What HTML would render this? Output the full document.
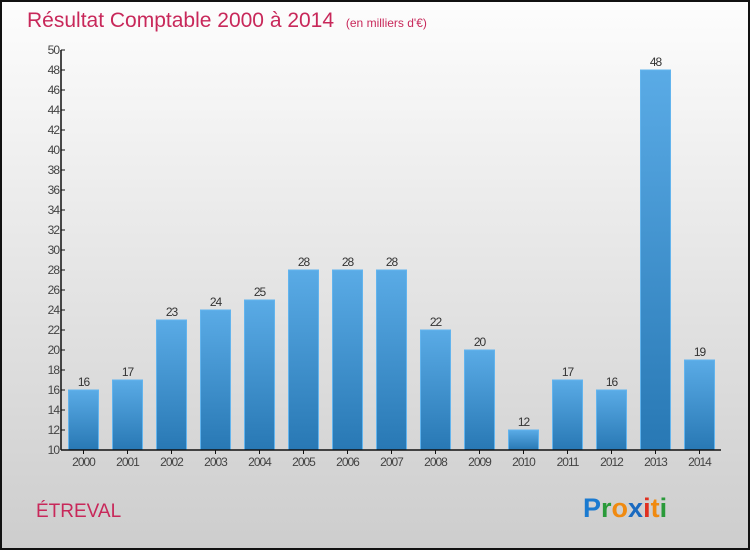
<!DOCTYPE html>
<html><head><meta charset="utf-8"><style>
body{margin:0;width:750px;height:550px;overflow:hidden}
svg{display:block;font-family:"Liberation Sans",sans-serif}
</style></head><body>
<svg width="750" height="550">
<defs>
<linearGradient id="bg" x1="0" y1="0" x2="0" y2="1"><stop offset="0" stop-color="#fdfdfd"/><stop offset="1" stop-color="#cdcdcd"/></linearGradient>
<linearGradient id="bar" x1="0" y1="0" x2="0" y2="1"><stop offset="0" stop-color="#5aabe6"/><stop offset="1" stop-color="#2878b4"/></linearGradient>
</defs>
<rect x="1" y="1" width="748" height="548" fill="url(#bg)" stroke="#111" stroke-width="2"/>
<text x="27" y="27" font-size="21" fill="#c8285a">Résultat Comptable 2000 à 2014 <tspan font-size="12" dx="6">(en milliers d'€)</tspan></text>
<g id="yaxis"></g>
<g id="bars"></g>
<g id="xaxis"></g>
<text x="36" y="517" font-size="19" fill="#c8285a">ÉTREVAL</text>
<text x="583" y="517" font-size="27" font-weight="bold"><tspan fill="#1a7ad0">P</tspan><tspan fill="#2a9a3a">r</tspan><tspan fill="#f08a10">o</tspan><tspan fill="#1a6ac0">x</tspan><tspan fill="#e03020">i</tspan><tspan fill="#f08a10">t</tspan><tspan fill="#2a9a3a">i</tspan></text>
</svg>
<script>
const categories=["2000","2001","2002","2003","2004","2005","2006","2007","2008","2009","2010","2011","2012","2013","2014"];
const values=[16,17,23,24,25,28,28,28,22,20,12,17,16,48,19];
const yTicks=[10,12,14,16,18,20,22,24,26,28,30,32,34,36,38,40,42,44,46,48,50];
(function(){
const NS="http://www.w3.org/2000/svg";
const yMin=10,yMax=50,yTop=50,yBot=450,xL=61,xR=721;
const y=v=>yBot-(v-yMin)/(yMax-yMin)*(yBot-yTop);
const step=(xR-xL)/categories.length;
const xc=i=>xL+step*(i+0.5)+0.5;
function mk(tag,attrs,parent,text){const e=document.createElementNS(NS,tag);for(const k in attrs)e.setAttribute(k,attrs[k]);if(text!==undefined)e.textContent=text;parent.appendChild(e);return e;}
const ya=document.getElementById('yaxis'),xa=document.getElementById('xaxis'),bg=document.getElementById('bars');
let l=mk('line',{x1:xL,y1:yTop,x2:xL,y2:yBot,stroke:'#111','stroke-width':1.5},ya);


yTicks.forEach(t=>{
 let tk=mk('line',{x1:xL,y1:y(t),x2:xL+4,y2:y(t),stroke:'#111'},ya);
 
 
 let tl=mk('text',{x:xL-2,y:y(t)+4,'font-size':12,fill:'#444','text-anchor':'end','letter-spacing':'-1'},ya,t);
 
 
});
let xl=mk('line',{x1:xL,y1:yBot,x2:xR,y2:yBot,stroke:'#111','stroke-width':1.5},xa);


categories.forEach((c,i)=>{
 const v=values[i],cx=xc(i);
 let r=mk('rect',{x:cx-15,y:y(v),width:30,height:yBot-y(v),fill:'url(#bar)',stroke:'#62b4ee','stroke-width':1},bg);
 
 
 let vl=mk('text',{x:cx,y:y(v)-4,'font-size':12,fill:'#333','text-anchor':'middle','letter-spacing':'-1'},bg,v);
 
 
 let tk=mk('line',{x1:cx,y1:yBot,x2:cx,y2:yBot+4,stroke:'#111'},xa);
 
 
 let xt=mk('text',{x:cx,y:yBot+16,'font-size':12,fill:'#444','text-anchor':'middle','letter-spacing':'-1'},xa,c);
 
 
});
})();
</script>
</body></html>
